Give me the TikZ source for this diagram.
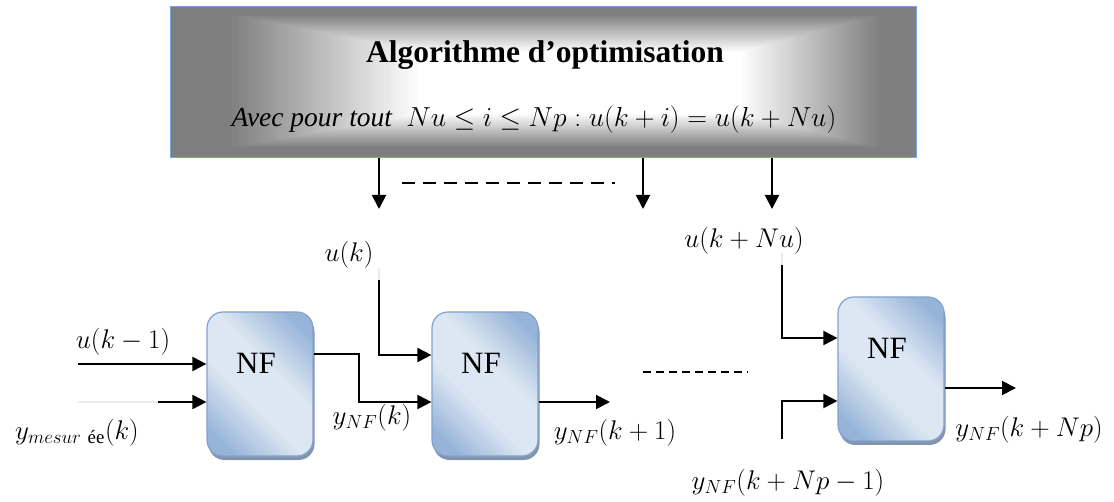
\documentclass[tikz,border=0pt]{standalone}
\usepackage{fix-cm}
\usepackage{amsmath}
\usepackage{fontspec}
\setmainfont{Liberation Serif}
\usetikzlibrary{arrows.meta,shadows}
\definecolor{nflight}{RGB}{221,231,243}
\definecolor{nfdark}{RGB}{150,180,216}
\definecolor{nfborder}{RGB}{130,163,208}
\definecolor{nfshadow}{RGB}{132,148,172}
\definecolor{algogray}{RGB}{126,126,126}
\definecolor{algoborder}{RGB}{120,165,225}
\pgfdeclarehorizontalshading{nfshade}{100bp}{color(0bp)=(nfdark); color(22bp)=(nfdark); color(42bp)=(nflight); color(58bp)=(nflight); color(78bp)=(nfdark); color(100bp)=(nfdark)}
\tikzstyle{algobox}=[rectangle, draw=algoborder, line width=1pt, minimum width=746pt, minimum height=151pt, inner sep=0pt]
\tikzstyle{nfbox}=[rectangle, rounded corners=16pt, draw=nfborder, line width=1.2pt, shading=nfshade, shading angle=45, minimum width=106pt, minimum height=144pt, drop shadow={shadow xshift=1.5pt, shadow yshift=-4pt, fill=nfshadow, opacity=1}]
\tikzstyle{nftext}=[font=\fontsize{31}{35}\selectfont]
\tikzstyle{sig}=[font=\fontsize{27}{31}\selectfont]
\tikzstyle{flow}=[line width=2pt, -{Triangle[length=14pt,width=14pt]}]
\tikzstyle{wire}=[line width=1.6pt]
\tikzstyle{faint}=[line width=1.6pt, black!8]
\newcommand{\nfbloc}{\node[nfbox]}

\begin{document}
\begin{tikzpicture}[x=1pt,y=-1pt]
\useasboundingbox (0,0) rectangle (1114,502);
% bloc d'optimisation (degrade rectangulaire)
\fill[algogray] (170,7) rectangle (916,158);
\foreach \p in {100,98,...,0}{
  \pgfmathsetmacro{\s}{1-\p/100}
  \fill[algogray!\p!white] ({228+190*\s},{14+38*\s}) rectangle ({882-140*\s},{148-34*\s});
}
\node[algobox] (algo) at (543,82.5) {};
\node[font=\fontsize{31.5}{36}\selectfont\bfseries] (titre) at (545,55) {Algorithme d'optimisation};
\node[font=\fontsize{27.5}{32}\selectfont] (cond) at (534,120) {\textit{Avec pour tout}\ \ $Nu\leq i\leq Np : u(k+i)=u(k+Nu)$};
\coordinate (d1) at (379,209);
\coordinate (d2) at (643,209);
\coordinate (d3) at (772,209);
\foreach \d in {d1,d2,d3}{\draw[flow] (algo.south -| \d) -- (\d);}
\draw[wire, dash pattern=on 13pt off 8pt] (402,183) -- (615,183);
% blocs NF
\nfbloc (nf1) at (260,384) {};
\nfbloc (nf2) at (485,384) {};
\nfbloc (nf3) at (891,369) {};
\foreach \b in {nf1,nf2,nf3}{\node[nftext] (\b t) at ([xshift=-4pt,yshift=21pt]\b.center) {NF};}
%entrees du premier bloc
\coordinate (a1) at (78,364);
\coordinate (b0) at (78,402);
\coordinate (b1) at (158,402);
\draw[flow] (a1) -- (nf1.west |- a1);
\draw[faint] (b0) -- (b1);
\draw[flow] (b1) -- (nf1.west |- b1);
\node[sig] (uk1) at (123,342) {$u(k-1)$};
\node[sig] (ymes) at (77,433) {$y_{mesur\ \text{ée}}(k)$};
% sortie -> second bloc
\coordinate (c1) at (359,354);
\coordinate (c2) at (359,402);
\draw[flow] (nf1.east |- c1) -- (c1) -- (c2) -- (nf2.west |- c2);
\node[sig] (ynf0) at (372,418) {$y_{NF}(k)$};
\coordinate (e0) at (379,268);
\coordinate (e1) at (379,280);
\coordinate (e2) at (379,355);
\draw[faint] (e0) -- (e1);
\draw[flow] (e1) -- (e2) -- (nf2.west |- e2);
\node[sig] (uk) at (349,255) {$u(k)$};
\coordinate (f1) at (610,402);
\draw[flow] (nf2.east |- f1) -- (f1);
\node[sig] (ynf1) at (615,433) {$y_{NF}(k+1)$};
\draw[wire, dash pattern=on 8pt off 5pt] (643,372) -- (748,372);
% dernier bloc
\coordinate (g0) at (782,253);
\coordinate (g1) at (782,265);
\coordinate (g2) at (782,338);
\draw[faint] (g0) -- (g1);
\draw[flow] (g1) -- (g2) -- (nf3.west |- g2);
\node[sig] (uknu) at (744,241) {$u(k+Nu)$};
\coordinate (h0) at (782,439);
\coordinate (h1) at (782,401);
\draw[flow] (h0) -- (h1) -- (nf3.west |- h1);
\node[sig] (ynfp1) at (788,483) {$y_{NF}(k+Np-1)$};
\coordinate (s1) at (1016,388);
\draw[flow] (nf3.east |- s1) -- (s1);
\node[sig] (ynfp) at (1029,430) {$y_{NF}(k+Np)$};
\end{tikzpicture}
\end{document}
